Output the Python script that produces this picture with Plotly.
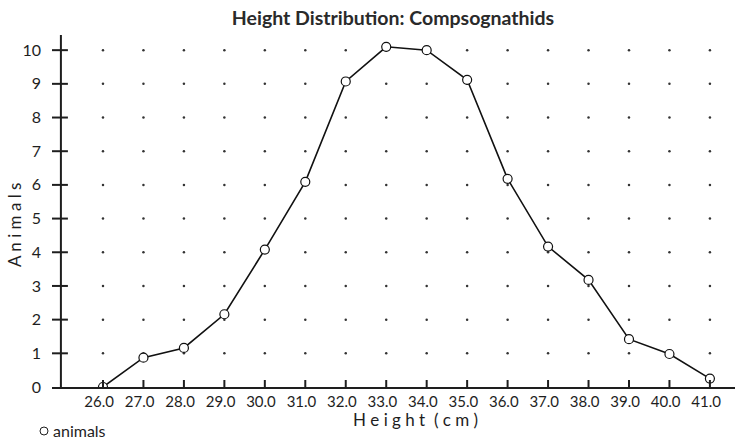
import plotly.graph_objects as go

heights = [26.0, 27.0, 28.0, 29.0, 30.0, 31.0, 32.0, 33.0, 34.0, 35.0, 36.0, 37.0, 38.0, 39.0, 40.0, 41.0]
animals = [0.0, 0.87, 1.16, 2.16, 4.08, 6.09, 9.07, 10.1, 10.0, 9.12, 6.18, 4.17, 3.18, 1.42, 0.98, 0.25]
x_ticks = [26, 27, 28, 29, 30, 31, 32, 33, 34, 35, 36, 37, 38, 39, 40, 41]
x_tick_labels = [f"{v:.1f}" for v in x_ticks]
y_ticks = [0, 1, 2, 3, 4, 5, 6, 7, 8, 9, 10]
y_tick_labels = [str(v) for v in y_ticks]

FONT = "Lato, 'Open Sans', sans-serif"
INK = "#1e1e1e"
Y_AXIS_X = 24.96
W, H = 735, 440
ML, MR, MT, MB = 52, 0, 35, 53
PW, PH = W - ML - MR, H - MT - MB
NB = "\u00a0"

fig = go.Figure()

# dotted grid
gx, gy = [], []
for yv in y_ticks[1:]:
    for xv in x_ticks:
        gx.append(xv)
        gy.append(yv)
fig.add_trace(go.Scatter(x=gx, y=gy, mode="markers", showlegend=False, hoverinfo="skip",
                         marker=dict(size=2.5, color="#333")))

fig.add_trace(go.Scatter(x=heights, y=animals, mode="lines+markers", showlegend=False,
                         line=dict(color="#111", width=1.6),
                         marker=dict(symbol="circle", size=9, color="white",
                                     line=dict(color="#111", width=1.2))))

shapes = []
# y axis line
shapes.append(dict(type="line", xref="x", yref="paper", x0=Y_AXIS_X, x1=Y_AXIS_X, y0=0, y1=1,
                   line=dict(color=INK, width=2)))
for v in x_ticks:
    shapes.append(dict(type="line", xref="x", yref="y", x0=v, x1=v, ysizemode="pixel", yanchor=0,
                       y0=-7, y1=7, line=dict(color=INK, width=2)))
for v in y_ticks[1:]:
    shapes.append(dict(type="line", yref="y", xref="x", y0=v, y1=v, xsizemode="pixel", xanchor=Y_AXIS_X,
                       x0=-13, x1=7, line=dict(color=INK, width=2)))
# legend symbol
LEG_Y = 430
shapes.append(dict(type="circle", xref="paper", yref="paper", xsizemode="pixel", ysizemode="pixel",
                   xanchor=(44 - ML) / PW, yanchor=-(LEG_Y + 1 - (H - MB)) / PH,
                   x0=-4, x1=4, y0=-4, y1=4, line=dict(color=INK, width=1), fillcolor="white"))

fig.update_layout(
    width=W, height=H,
    margin=dict(l=ML, r=MR, t=MT, b=MB),
    paper_bgcolor="white", plot_bgcolor="white",
    font=dict(family=FONT, color=INK),
    title=dict(text="<b>Height Distribution: Compsognathids</b>", x=393 / W, xanchor="center",
               y=1 - 18 / H, yanchor="middle", font=dict(size=19.5, family=FONT, color="#2a2a2a")),
    xaxis=dict(range=[24.74, 41.62], showline=True, linecolor=INK, linewidth=2, showgrid=False,
               zeroline=False, tickvals=x_ticks, ticktext=[t + NB + NB for t in x_tick_labels], ticks="",
               tickfont=dict(size=15, family=FONT, color=INK), ticklabelstandoff=0, automargin=False),
    yaxis=dict(range=[0, 10.45], showline=False, showgrid=False, zeroline=False,
               tickvals=y_ticks, ticktext=y_tick_labels, ticks="",
               tickfont=dict(size=16, family=FONT, color=INK), ticklabelstandoff=10, automargin=False),
    shapes=shapes,
    showlegend=False,
    annotations=[
        dict(text="A n i m a l s", xref="paper", yref="paper", x=(14 - ML) / PW, y=(H - MB - 225) / PH,
             textangle=-90, showarrow=False, font=dict(size=17, family=FONT, color=INK),
             xanchor="center", yanchor="middle"),
        dict(text="H e i g h t  ( c m )", xref="paper", yref="paper", x=(415 - ML) / PW,
             y=-(419 - (H - MB)) / PH,
             showarrow=False, font=dict(size=17, family=FONT, color=INK),
             xanchor="center", yanchor="middle"),
        dict(text="animals", xref="paper", yref="paper", x=(51 - ML) / PW, y=-(LEG_Y - (H - MB)) / PH,
             showarrow=False, font=dict(size=16, family=FONT, color=INK),
             xanchor="left", yanchor="middle"),
    ],
)

fig.write_html("out.html", config={"displayModeBar": False},
               post_script="document.body.style.margin='0';document.body.style.overflow='hidden';")
